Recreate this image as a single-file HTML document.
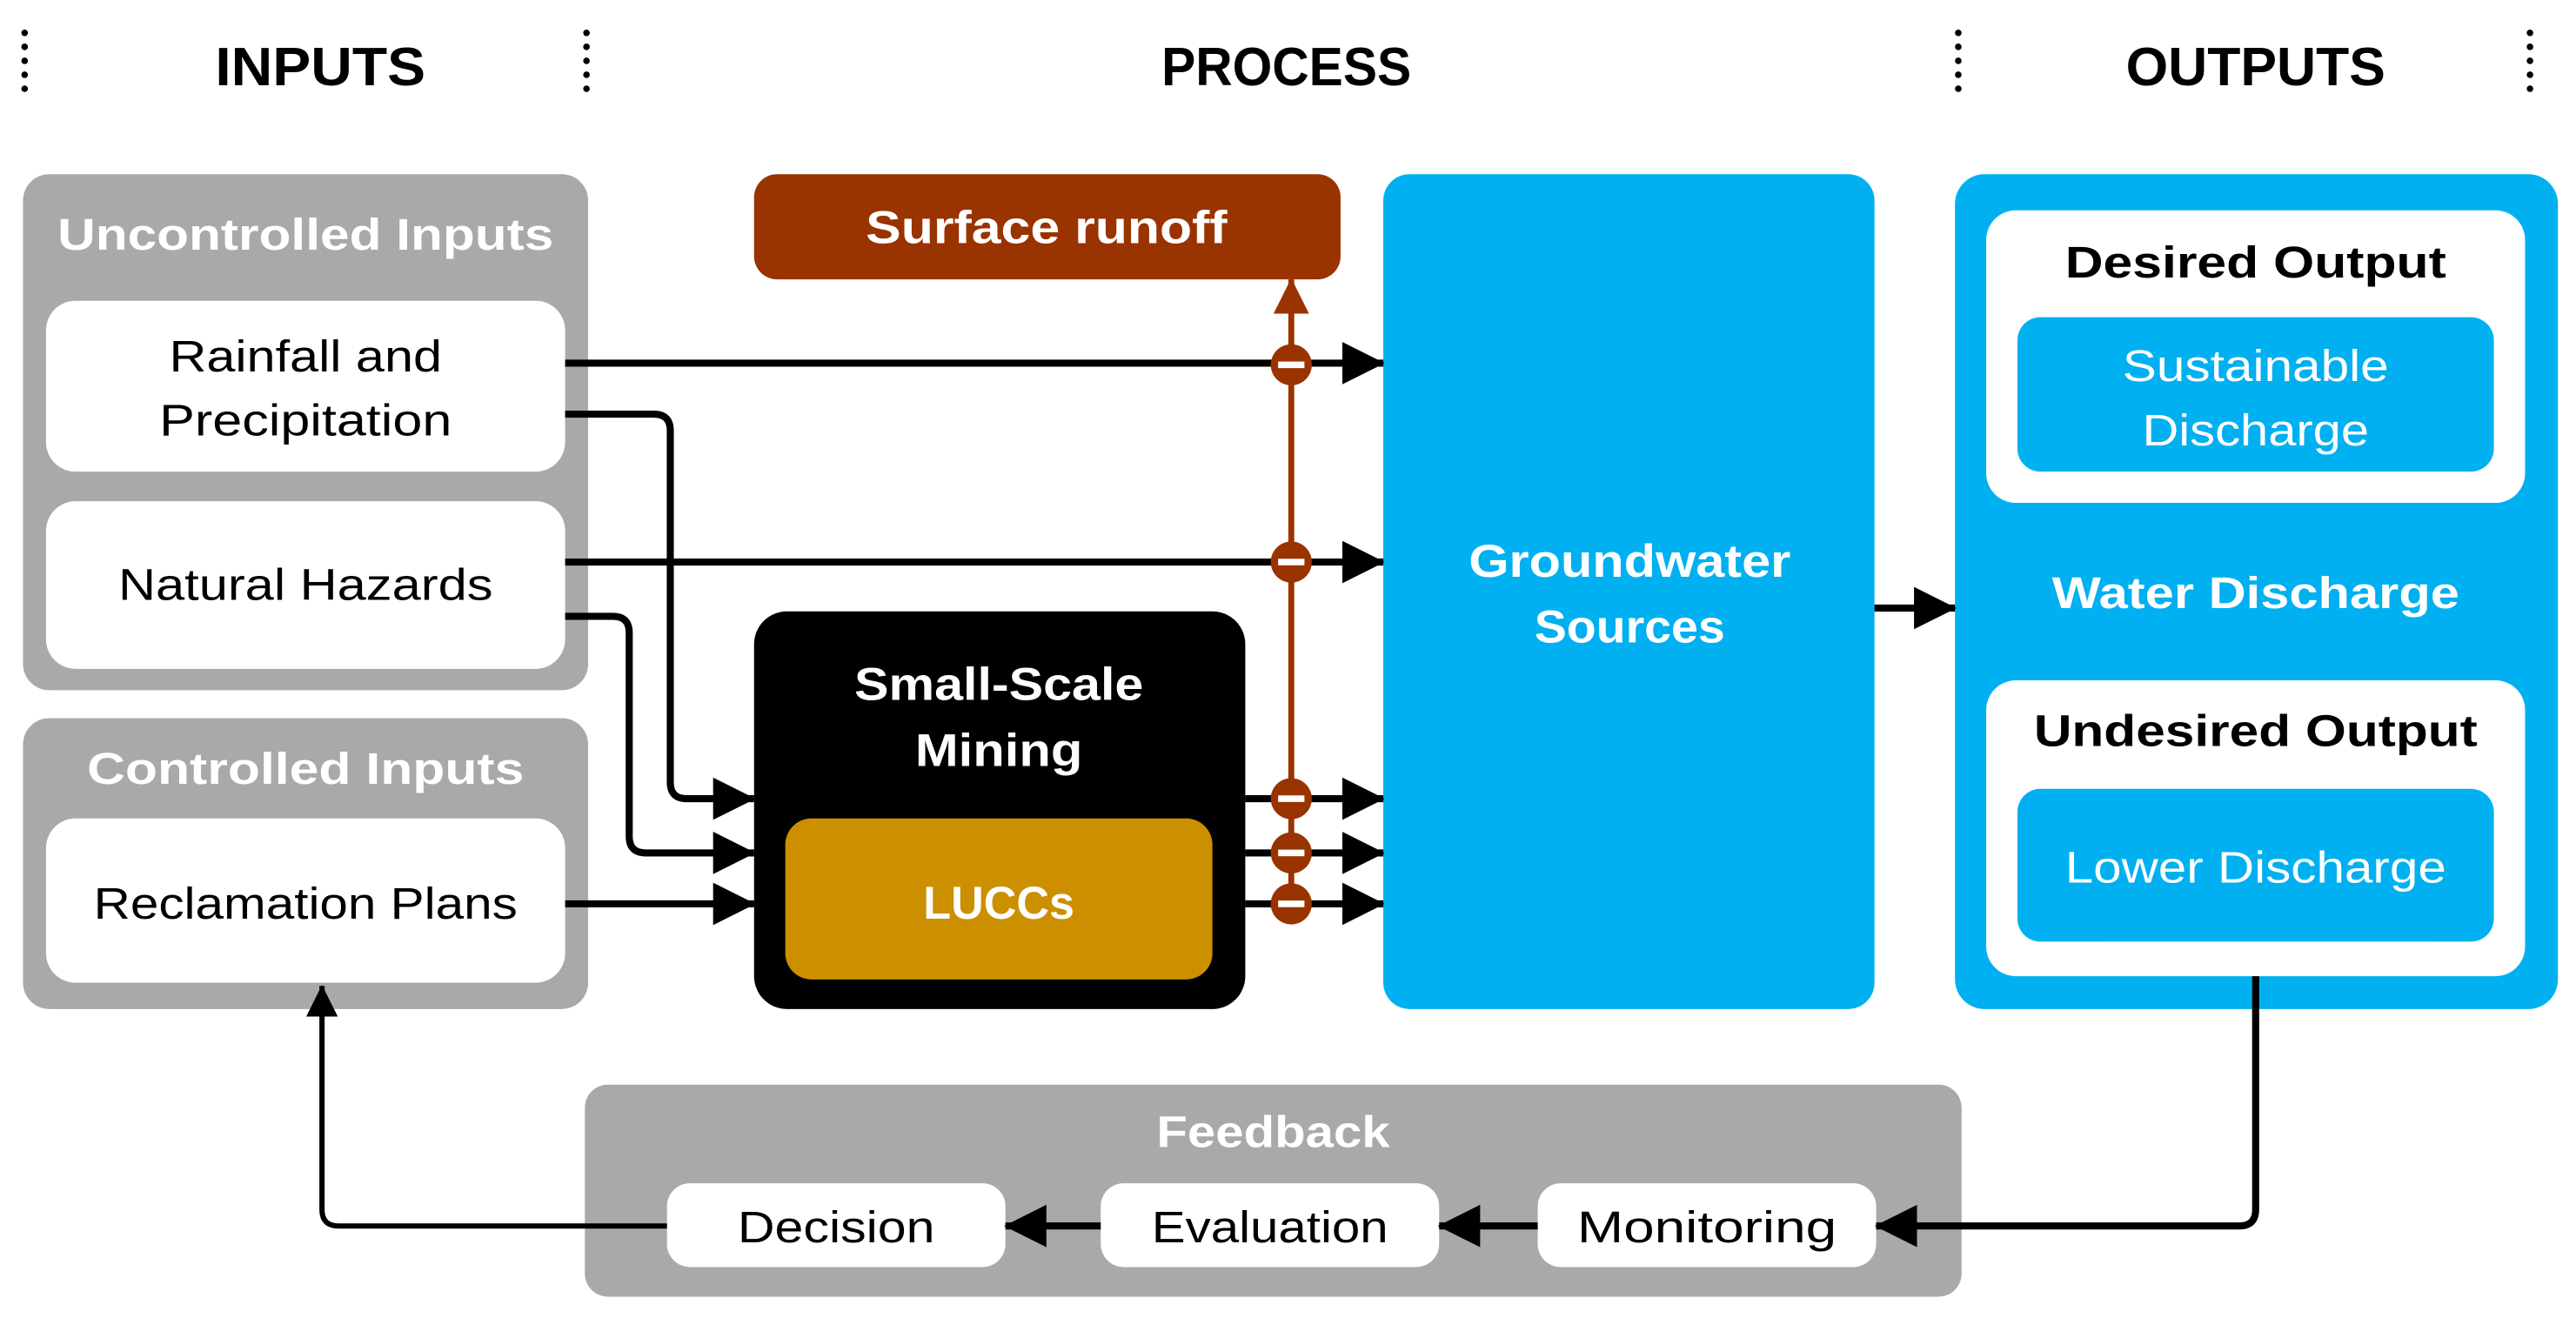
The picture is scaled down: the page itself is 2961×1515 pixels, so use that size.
<!DOCTYPE html>
<html><head><meta charset="utf-8"><style>
html,body{margin:0;padding:0;background:#fff;}
svg{display:block;}
text{font-family:"Liberation Sans",sans-serif;}
.b{font-weight:bold;}
</style></head><body>
<svg width="2961" height="1515" viewBox="0 0 1568 802" preserveAspectRatio="none" xmlns="http://www.w3.org/2000/svg">
<defs>
<marker id="ah" markerWidth="6" markerHeight="6" refX="5.8" refY="3" orient="auto" markerUnits="strokeWidth"><path d="M0,0 L6,3 L0,6 z" fill="#000"/></marker>
<marker id="ao" markerWidth="6" markerHeight="6" refX="5.8" refY="3" orient="auto" markerUnits="strokeWidth"><path d="M0,0 L6,3 L0,6 z" fill="#993300"/></marker>
</defs>
<!-- dividers -->
<g stroke="#000" stroke-width="4" stroke-linecap="round" stroke-dasharray="0 8.5">
<line x1="15" y1="20" x2="15" y2="62"/><line x1="357" y1="20" x2="357" y2="62"/>
<line x1="1192" y1="20" x2="1192" y2="62"/><line x1="1540" y1="20" x2="1540" y2="62"/>
</g>
<g class="b" font-size="33" text-anchor="middle" fill="#000">
<text x="195" y="52" textLength="128" lengthAdjust="spacingAndGlyphs" class="b">INPUTS</text>
<text x="783" y="52" textLength="152" lengthAdjust="spacingAndGlyphs" class="b">PROCESS</text>
<text x="1373" y="52" textLength="158" lengthAdjust="spacingAndGlyphs" class="b">OUTPUTS</text>
</g>
<!-- inputs -->
<rect x="14" y="106" width="344" height="314" rx="16" fill="#a9a9a9"/>
<rect x="14" y="437" width="344" height="177" rx="16" fill="#a9a9a9"/>
<rect x="28" y="183" width="316" height="104" rx="18" fill="#fff"/>
<rect x="28" y="305" width="316" height="102" rx="18" fill="#fff"/>
<rect x="28" y="498" width="316" height="100" rx="18" fill="#fff"/>
<g font-size="27" text-anchor="middle">
<text x="186" y="152" fill="#fff" class="b" textLength="302" lengthAdjust="spacingAndGlyphs">Uncontrolled Inputs</text>
<text x="186" y="477" fill="#fff" class="b" textLength="266" lengthAdjust="spacingAndGlyphs">Controlled Inputs</text>
<text x="186" y="226" textLength="166" lengthAdjust="spacingAndGlyphs">Rainfall and</text>
<text x="186" y="265" textLength="178" lengthAdjust="spacingAndGlyphs">Precipitation</text>
<text x="186" y="365" textLength="228" lengthAdjust="spacingAndGlyphs">Natural Hazards</text>
<text x="186" y="559" textLength="258" lengthAdjust="spacingAndGlyphs">Reclamation Plans</text>
</g>
<!-- process -->
<rect x="459" y="106" width="357" height="64" rx="14" fill="#993300"/>
<text x="637" y="148" font-size="28" fill="#fff" text-anchor="middle" class="b" textLength="220" lengthAdjust="spacingAndGlyphs">Surface runoff</text>
<rect x="459" y="372" width="299" height="242" rx="20" fill="#000"/>
<text x="608" y="426" font-size="28" fill="#fff" text-anchor="middle" class="b" textLength="176" lengthAdjust="spacingAndGlyphs">Small-Scale</text>
<text x="608" y="466" font-size="28" fill="#fff" text-anchor="middle" class="b" textLength="102" lengthAdjust="spacingAndGlyphs">Mining</text>
<rect x="478" y="498" width="260" height="98" rx="16" fill="#cc8f00"/>
<text x="608" y="559" font-size="28" fill="#fff" text-anchor="middle" class="b" textLength="92" lengthAdjust="spacingAndGlyphs">LUCCs</text>
<rect x="842" y="106" width="299" height="508" rx="16" fill="#00b0f0"/>
<text x="992" y="351" font-size="28" fill="#fff" text-anchor="middle" class="b" textLength="196" lengthAdjust="spacingAndGlyphs">Groundwater</text>
<text x="992" y="391" font-size="28" fill="#fff" text-anchor="middle" class="b" textLength="116" lengthAdjust="spacingAndGlyphs">Sources</text>
<!-- outputs -->
<rect x="1190" y="106" width="367" height="508" rx="18" fill="#00b0f0"/>
<rect x="1209" y="128" width="328" height="178" rx="18" fill="#fff"/>
<rect x="1228" y="193" width="290" height="94" rx="14" fill="#00b0f0"/>
<rect x="1209" y="414" width="328" height="180" rx="18" fill="#fff"/>
<rect x="1228" y="480" width="290" height="93" rx="14" fill="#00b0f0"/>
<g font-size="27" text-anchor="middle">
<text x="1373" y="169" class="b" textLength="232" lengthAdjust="spacingAndGlyphs">Desired Output</text>
<text x="1373" y="232" fill="#fff" textLength="162" lengthAdjust="spacingAndGlyphs">Sustainable</text>
<text x="1373" y="271" fill="#fff" textLength="138" lengthAdjust="spacingAndGlyphs">Discharge</text>
<text x="1373" y="370" fill="#fff" class="b" textLength="248" lengthAdjust="spacingAndGlyphs">Water Discharge</text>
<text x="1373" y="454" class="b" textLength="270" lengthAdjust="spacingAndGlyphs">Undesired Output</text>
<text x="1373" y="537" fill="#fff" textLength="232" lengthAdjust="spacingAndGlyphs">Lower Discharge</text>
</g>
<!-- feedback -->
<rect x="356" y="660" width="838" height="129" rx="14" fill="#a9a9a9"/>
<text x="775" y="698" font-size="27" fill="#fff" text-anchor="middle" class="b" textLength="142" lengthAdjust="spacingAndGlyphs">Feedback</text>
<rect x="406" y="720" width="206" height="51" rx="14" fill="#fff"/>
<rect x="670" y="720" width="206" height="51" rx="14" fill="#fff"/>
<rect x="936" y="720" width="206" height="51" rx="14" fill="#fff"/>
<g font-size="27" text-anchor="middle">
<text x="509" y="756" textLength="120" lengthAdjust="spacingAndGlyphs">Decision</text>
<text x="773" y="756" textLength="144" lengthAdjust="spacingAndGlyphs">Evaluation</text>
<text x="1039" y="756" textLength="158" lengthAdjust="spacingAndGlyphs">Monitoring</text>
</g>
<!-- connectors -->
<g stroke="#000" stroke-width="4.3" fill="none" marker-end="url(#ah)">
<path d="M344,221 H842"/>
<path d="M344,342 H842"/>
<path d="M344,252 H398 Q408,252 408,262 V476 Q408,486 418,486 H459"/>
<path d="M344,375 H373 Q383,375 383,385 V509 Q383,519 393,519 H459"/>
<path d="M344,550 H459"/>
<path d="M758,486 H842"/>
<path d="M758,519 H842"/>
<path d="M758,550 H842"/>
<path d="M1141,370 H1190"/>
<path d="M936,746 H876"/>
<path d="M670,746 H612"/>
</g>
<g stroke="#000" stroke-width="3.2" fill="none">
<path d="M1373,594 V736 Q1373,746 1363,746 H1142" marker-end="url(#ah)" stroke-width="4.3"/>
<path d="M406,746 H206 Q196,746 196,736 V600" marker-end="url(#ah)" stroke-width="3.2"/>
</g>
<line x1="786" y1="550" x2="786" y2="170" stroke="#993300" stroke-width="3.6" marker-end="url(#ao)"/>
<g fill="#993300">
<circle cx="786" cy="222" r="12.5"/><circle cx="786" cy="342" r="12.5"/>
<circle cx="786" cy="486" r="12.5"/><circle cx="786" cy="519" r="12.5"/><circle cx="786" cy="550" r="12.5"/>
</g>
<g fill="#fff">
<rect x="778" y="220" width="16" height="4"/><rect x="778" y="340" width="16" height="4"/>
<rect x="778" y="484" width="16" height="4"/><rect x="778" y="517" width="16" height="4"/><rect x="778" y="548" width="16" height="4"/>
</g>
</svg>
</body></html>
